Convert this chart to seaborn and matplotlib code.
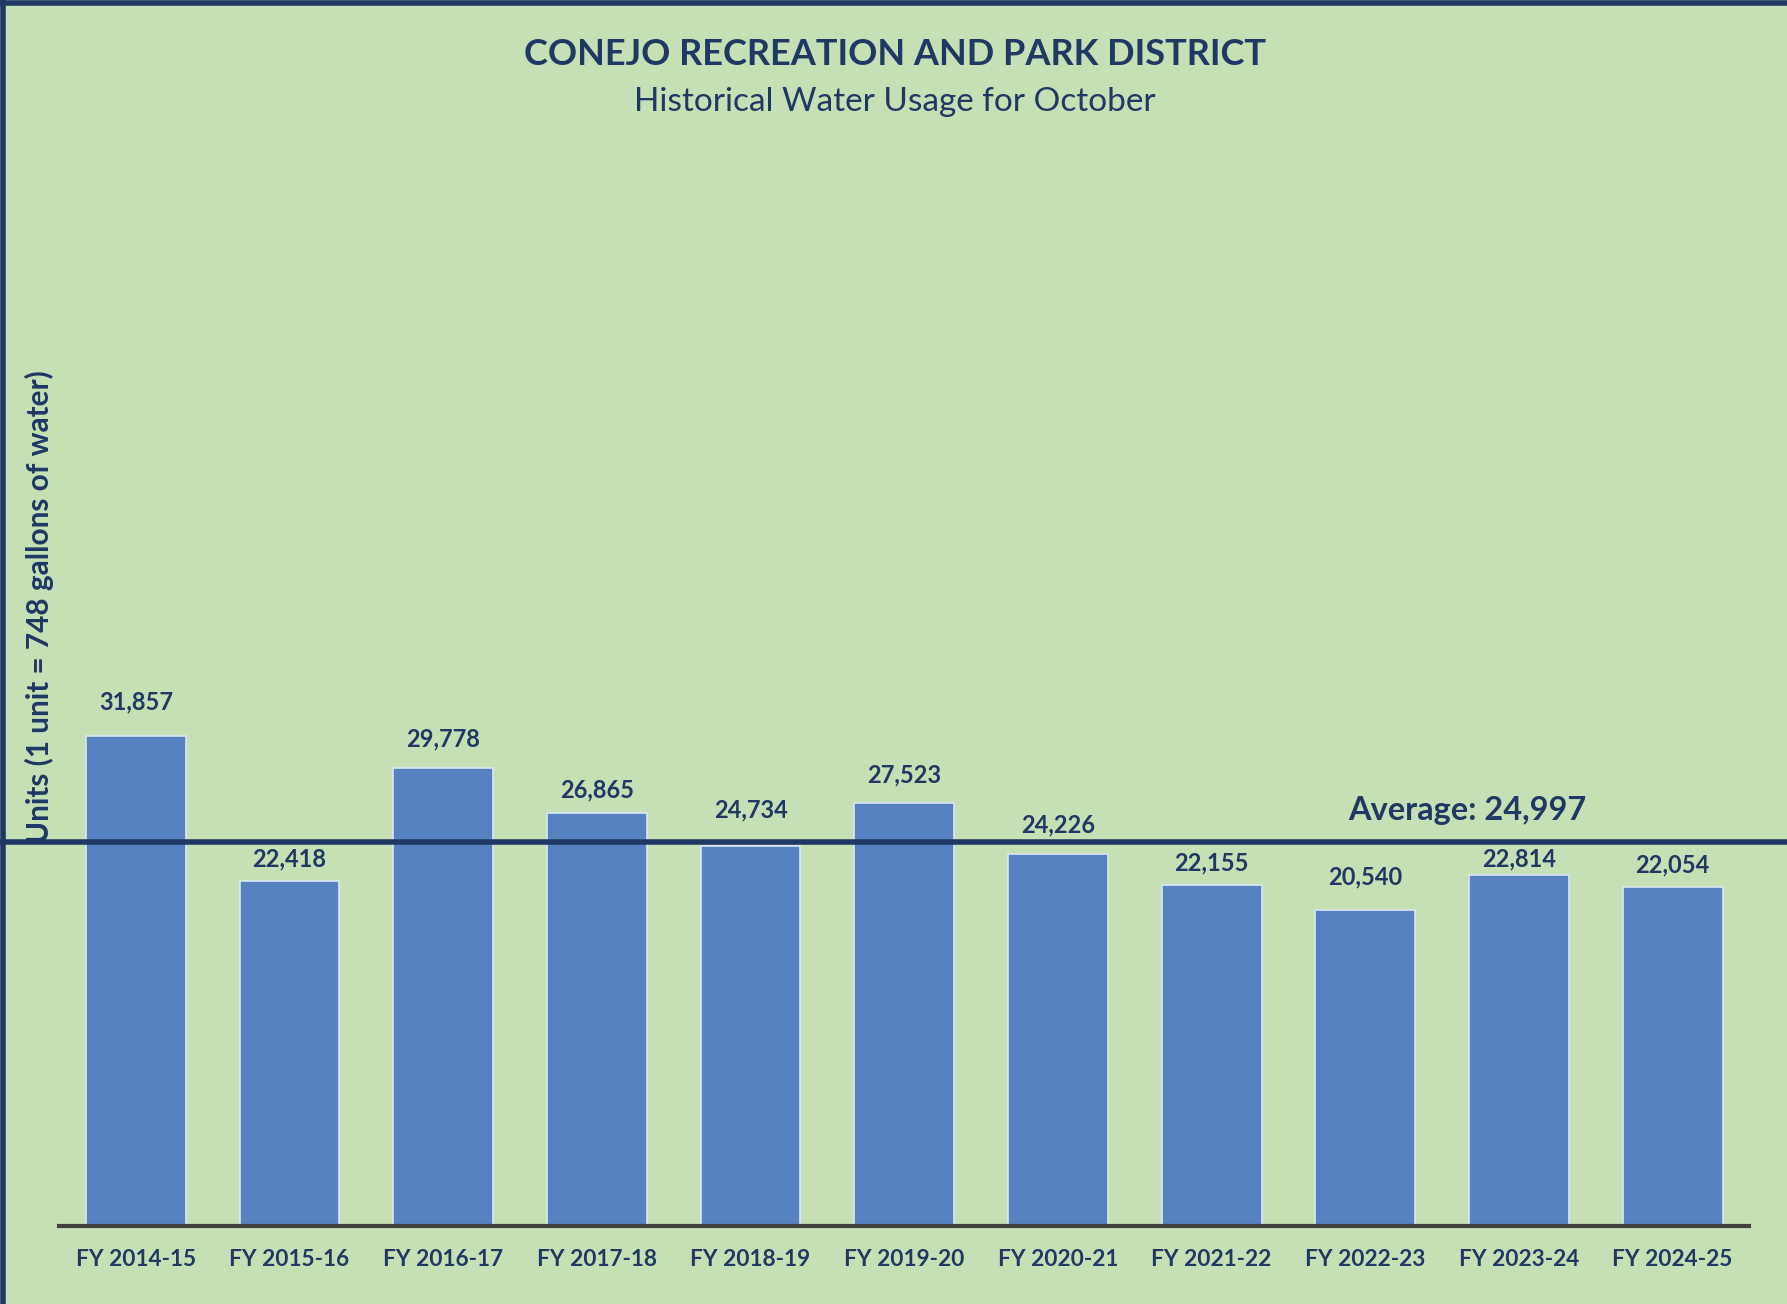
import matplotlib
matplotlib.use("Agg")
import matplotlib.pyplot as plt
import matplotlib.transforms as mtrans
from matplotlib.lines import Line2D
import seaborn as sns
import pandas as pd

years = ['FY 2014-15', 'FY 2015-16', 'FY 2016-17', 'FY 2017-18', 'FY 2018-19', 'FY 2019-20',
         'FY 2020-21', 'FY 2021-22', 'FY 2022-23', 'FY 2023-24', 'FY 2024-25']
usage = [31857, 22418, 29778, 26865, 24734, 27523, 24226, 22155, 20540, 22814, 22054]
average = 24997

# label offsets above each bar (points), as placed in the original
label_offsets = [25, 16, 21, 17, 26, 20, 21, 16, 24, 12, 16]

navy = '#1F3864'
bg = '#C5E0B4'
bar_color = '#5682C2'

df = pd.DataFrame({'year': years, 'units': usage})

sns.set_theme(style='white')
plt.rcParams['font.family'] = ['Lato', 'DejaVu Sans']

fig = plt.figure(figsize=(17.87, 13.04), dpi=100, facecolor=bg)
ax = fig.add_axes([0.033, 0.06, 0.946, 0.86])
ax.set_facecolor(bg)

sns.barplot(data=df, x='year', y='units', color=bar_color, width=0.65, saturation=1,
            edgecolor='#DCE6F2', linewidth=1.2, ax=ax)
ax.set_xlim(-0.5, 10.5)
ax.set_ylim(0, 73000)

for i, (v, off) in enumerate(zip(usage, label_offsets)):
    ax.annotate(f'{v:,}', (i, v), xytext=(0, off), textcoords='offset points',
                ha='center', va='center', fontsize=17, fontweight='bold', color=navy)

for s in ['top', 'right', 'left']:
    ax.spines[s].set_visible(False)
ax.spines['bottom'].set_color('#404040')
ax.spines['bottom'].set_linewidth(3)
ax.set_yticks([])
ax.tick_params(axis='x', length=0, pad=17)
for lbl in ax.get_xticklabels():
    lbl.set_fontsize(16.3)
    lbl.set_fontweight('bold')
    lbl.set_color(navy)
ax.set_xlabel('')
ax.set_ylabel('')

# average line across full figure width
tr = mtrans.blended_transform_factory(fig.transFigure, ax.transData)
ax.plot([0, 1], [average, average], transform=tr, color=navy, lw=4, clip_on=False, zorder=5)
ax.text(0.821, average + 2050, f'Average: {average:,}', transform=tr, ha='center', va='center',
        fontsize=23.4, fontweight='bold', color=navy)

fig.text(0.022, 0.535, 'Units (1 unit = 748 gallons of water)', rotation=90, ha='center', va='center',
         fontsize=21.4, fontweight='bold', color=navy)

fig.text(0.501, 0.958, 'CONEJO RECREATION AND PARK DISTRICT', ha='center', va='center',
         fontsize=26, fontweight='bold', color=navy)
fig.text(0.501, 0.922, 'Historical Water Usage for October', ha='center', va='center',
         fontsize=24, color=navy)

# frame on top and left
fig.add_artist(Line2D([0, 1], [0.998, 0.998], transform=fig.transFigure, color=navy, lw=4))
fig.add_artist(Line2D([0.0015, 0.0015], [0, 1], transform=fig.transFigure, color=navy, lw=4))

fig.savefig('out.png', dpi=100, facecolor=bg)
